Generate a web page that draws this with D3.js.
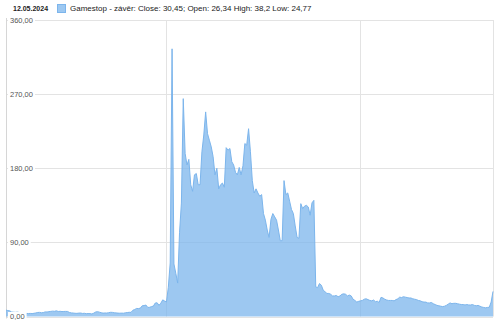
<!DOCTYPE html>
<html>
<head>
<meta charset="utf-8">
<script src="https://cdn.jsdelivr.net/npm/d3@7"></script>
<style>
  body { margin: 0; background: #fff; }
  text { font-family: "Liberation Sans", Arial, sans-serif; }
</style>
</head>
<body>
<div id="app"></div>
<script>
// týdenní závěrečné ceny (pondělí v týdnu)
const close2019 = [7.8, 7.2, 6.9, 5.4, 5.2, 5.0, 5.3, 4.9, 4.2, 4.4, 4.0, 3.7, 3.6, 3.7, 3.5, 3.9,
  4.3, 4.9, 5.0, 4.5, 4.8, 5.6, 5.5, 5.9, 6.2, 6.5, 6.3, 6.9, 6.1, 6.3, 6.0, 6.1, 6.2, 6.1];
const close2020 = [4.9, 4.4, 4.2, 3.9, 3.8, 4.1, 4.2, 3.7, 3.9, 3.4, 3.6, 3.5, 3.1,
  4.0, 5.4, 5.9, 5.3, 4.6, 4.1, 4.3, 4.2, 4.6, 5.1, 5.0, 4.5, 4.4, 4.1, 4.0, 4.1, 4.0,
  4.5, 4.8, 5.1, 5.0, 7.6, 8.5, 9.8, 9.6, 10.2, 13.0, 13.3, 13.9, 11.0,
  11.2, 12.0, 12.7, 16.4, 16.6, 13.6, 16.2, 20.2, 18.8];
const close2021 = [17.7, 35.5, 65.0, 325.0, 63.8, 52.4, 40.6, 101.7,
  137.7, 264.5, 198, 184, 190.8, 160, 152, 172, 173.6, 160, 160, 200, 220.4, 248.4,
  222, 214, 206, 194, 172, 180, 155, 160, 162, 157, 205, 202, 204, 188, 184, 175,
  172, 181, 172, 183, 210, 208, 228, 200, 165, 150, 155, 150, 146, 148];
const close2022 = [125, 117, 105, 96, 118, 125, 121, 117, 105, 92, 92, 165, 148,
  150, 140, 130, 125, 110, 96, 95, 137, 131, 134, 135, 133, 123, 138, 141,
  36, 35, 40, 38, 32, 30, 28, 28, 27, 25, 25, 25.5, 24, 25, 27, 27.5, 27, 25, 26,
  25, 21, 19.5, 17.5, 18.4];
const close2023 = [19, 19.5, 21, 21.5, 20.5, 19.5, 19, 20, 18, 18.5, 17, 23.3, 22.5,
  21, 20, 19.5, 19.5, 19.5, 19, 20.5, 21.5, 23.5, 23, 24, 23.5, 23, 22.5, 22.5, 21.5,
  21, 20.5, 19.5, 19, 18, 17.5, 17.5, 16.5, 16.5, 17, 15.5, 14.5, 13.5, 13, 12.5,
  12, 12.5, 13.5, 15, 16.5, 15.5, 16, 16];
const close2024 = [15.5, 15, 14.5, 14.5, 14, 14.5, 14, 14, 14.5, 13.5, 13, 13.5, 12.5,
  11.5, 11, 10.5, 11, 11.2, 17.5, 30.45];

const yTicks = [0, 90, 180, 270, 360];
const title = '12.05.2024';
const legendText = 'Gamestop - závěr: Close: 30,45; Open: 26,34 High: 38,2 Low: 24,77';

function weeks(start, values) {
  const s = new Date(start + 'T00:00:00');
  return values.map((v, i) => ({ date: d3.timeMonday.offset(s, i), value: v }));
}

const data = [].concat(
  weeks('2019-05-13', close2019),
  weeks('2020-01-06', close2020),
  weeks('2021-01-04', close2021),
  weeks('2022-01-03', close2022),
  weeks('2023-01-02', close2023),
  weeks('2024-01-01', close2024)
);

const width = 500, height = 328;
const plot = { left: 6, right: 493, top: 20, bottom: 316.5 };
const color = '#7cb5ec';

const cz = d3.formatLocale({ decimal: ',', thousands: ' ', grouping: [3], currency: ['', ' Kč'] });
const fmt = cz.format('.2f');

const x = d3.scaleTime()
  .domain(d3.extent(data, d => d.date))
  .range([plot.left, plot.right]);

const y = d3.scaleLinear()
  .domain([0, 360])
  .range([plot.bottom, plot.top]);

const svg = d3.select('#app')
  .append('svg')
    .attr('width', width)
    .attr('height', height);

// mřížka
svg.append('g')
  .selectAll('line')
  .data(yTicks)
  .join('line')
    .attr('x1', plot.left).attr('x2', plot.right)
    .attr('y1', d => Math.round(y(d)) + .5).attr('y2', d => Math.round(y(d)) + .5)
    .attr('stroke', '#e3e3e3');

const xGrid = [new Date(2021, 0, 1), new Date(2023, 0, 1)];
svg.append('g')
  .selectAll('line')
  .data(xGrid)
  .join('line')
    .attr('x1', d => Math.round(x(d)) + .5).attr('x2', d => Math.round(x(d)) + .5)
    .attr('y1', plot.top).attr('y2', plot.bottom)
    .attr('stroke', '#e3e3e3');

svg.append('line')
  .attr('x1', plot.right + .5).attr('x2', plot.right + .5)
  .attr('y1', plot.top).attr('y2', plot.bottom)
  .attr('stroke', '#e3e3e3');

svg.append('line')
  .attr('x1', plot.left + .5).attr('x2', plot.left + .5)
  .attr('y1', plot.top - 2).attr('y2', plot.bottom + 2)
  .attr('stroke', '#d6d6d6');

// plocha
const area = d3.area()
  .x(d => x(d.date))
  .y0(y(0))
  .y1(d => y(d.value));

const line = d3.line()
  .x(d => x(d.date))
  .y(d => y(d.value));

svg.append('path')
  .datum(data)
  .attr('d', area)
  .attr('fill', color)
  .attr('fill-opacity', .75);

svg.append('path')
  .datum(data)
  .attr('d', line)
  .attr('fill', 'none')
  .attr('stroke', color)
  .attr('stroke-width', 1);

// popisky osy y
const labels = svg.append('g')
  .selectAll('g')
  .data(yTicks)
  .join('g')
    .attr('transform', d => `translate(10, ${y(d)})`);

labels.append('text')
  .attr('dy', '0.35em')
  .attr('font-size', 7.5)
  .attr('fill', '#555')
  .text(d => fmt(d));

labels.each(function () {
  const g = d3.select(this);
  const w = g.select('text').node().getComputedTextLength();
  g.insert('rect', 'text')
    .attr('x', -2).attr('y', -4.5)
    .attr('width', w + 4).attr('height', 9)
    .attr('fill', '#fff');
});

// záhlaví
svg.append('text')
  .attr('x', 13).attr('y', 11)
  .attr('font-size', 7)
  .attr('font-weight', 600)
  .attr('fill', '#222')
  .text(title);

svg.append('rect')
  .attr('x', 57.5).attr('y', 4.5)
  .attr('width', 8).attr('height', 8)
  .attr('fill', color).attr('fill-opacity', .75)
  .attr('stroke', color);

svg.append('text')
  .attr('x', 70).attr('y', 11)
  .attr('font-size', 8)
  .attr('fill', '#222')
  .text(legendText);
</script>
</body>
</html>
